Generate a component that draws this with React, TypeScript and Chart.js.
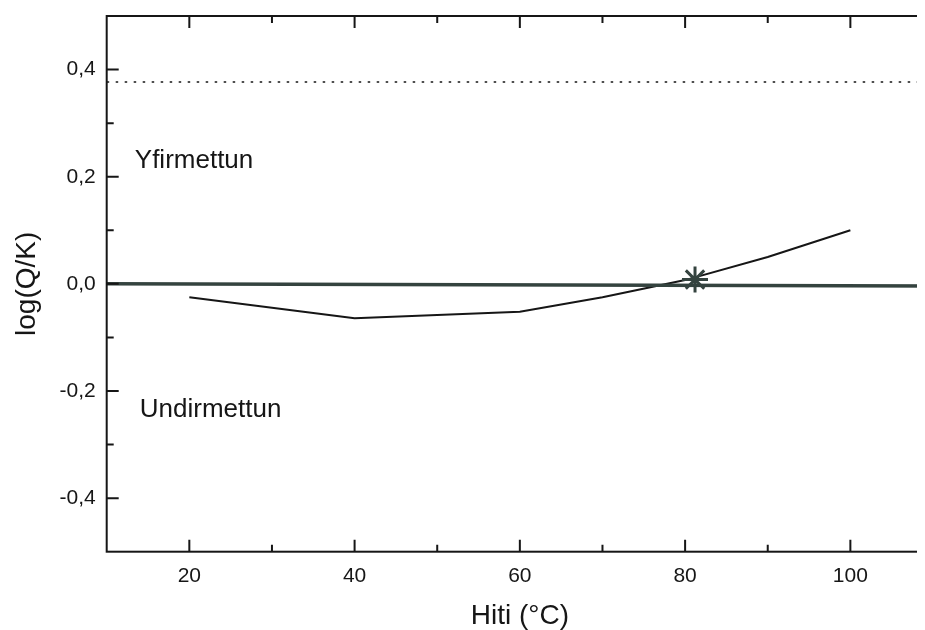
import React, { useEffect, useRef } from "react";
import { Chart, registerables } from "chart.js";

Chart.register(...registerables);

// ---- data ----
const temperatures = [20, 40, 60, 70, 80, 90, 100];
const logQK = [-0.025, -0.064, -0.052, -0.025, 0.007, 0.05, 0.1];

const equilibriumX = [10, 110];
const equilibriumY = [0.0, -0.004];

const dottedX = [10, 110];
const dottedY = [0.377, 0.377];

const starX = [81.2];
const starY = [0.008];

const xMajorTicks = [20, 40, 60, 80, 100];
const xMinorTicks = [30, 50, 70, 90];
const yMajorTicks = [-0.4, -0.2, 0, 0.2, 0.4];
const yMinorTicks = [-0.3, -0.1, 0.1, 0.3];

const regionLabels = ["Yfirmettun", "Undirmettun"];
const regionLabelX = [13.4, 14.0];
const regionLabelY = [0.217, -0.248];

const xTitle = "Hiti (°C)";
const yTitle = "log(Q/K)";

const FONT = '"Liberation Sans", Arial, Helvetica, sans-serif';
const INK = "#161616";
const SLATE = "#34433f";

const zeroPadding = (s: any) => {
  s.paddingTop = 0;
  s.paddingBottom = 0;
  s.paddingLeft = 0;
  s.paddingRight = 0;
};

const framePlugin = {
  id: "frameTicks",
  afterDatasetsDraw(chart: any) {
    const { ctx, chartArea: a, scales } = chart;
    const x = scales.x;
    const y = scales.y;
    const major = 12;
    const minor = 7;
    ctx.save();
    ctx.strokeStyle = INK;
    ctx.lineWidth = 2;
    ctx.strokeRect(a.left, a.top, a.right - a.left, a.bottom - a.top);
    ctx.beginPath();
    const xt = (v: number, len: number) => {
      const px = x.getPixelForValue(v);
      ctx.moveTo(px, a.bottom);
      ctx.lineTo(px, a.bottom - len);
      ctx.moveTo(px, a.top);
      ctx.lineTo(px, a.top + len);
    };
    const yt = (v: number, len: number) => {
      const py = y.getPixelForValue(v);
      ctx.moveTo(a.left, py);
      ctx.lineTo(a.left + len, py);
      ctx.moveTo(a.right, py);
      ctx.lineTo(a.right - len, py);
    };
    xMajorTicks.forEach((v) => xt(v, major));
    xMinorTicks.forEach((v) => xt(v, minor));
    yMajorTicks.forEach((v) => yt(v, major));
    yMinorTicks.forEach((v) => yt(v, minor));
    ctx.stroke();

    ctx.fillStyle = INK;
    ctx.font = `26px ${FONT}`;
    ctx.textAlign = "left";
    ctx.textBaseline = "alphabetic";
    regionLabels.forEach((t, i) => {
      ctx.fillText(t, x.getPixelForValue(regionLabelX[i]), y.getPixelForValue(regionLabelY[i]));
    });
    ctx.restore();
  },
};

export default function App() {
  const ref = useRef<HTMLCanvasElement | null>(null);

  useEffect(() => {
    document.documentElement.style.overflow = "hidden";
    const canvas = ref.current;
    if (!canvas) return;
    const chart = new Chart(canvas, {
      type: "line",
      data: {
        datasets: [
          {
            type: "scatter",
            data: starX.map((v, i) => ({ x: v, y: starY[i] })),
            pointStyle: "star",
            pointRadius: 13,
            pointBorderWidth: 3,
            borderColor: SLATE,
            backgroundColor: SLATE,
            showLine: false,
          },
          {
            data: equilibriumX.map((v, i) => ({ x: v, y: equilibriumY[i] })),
            borderColor: SLATE,
            borderWidth: 3.5,
            pointRadius: 0,
            tension: 0,
          },
          {
            data: temperatures.map((v, i) => ({ x: v, y: logQK[i] })),
            borderColor: INK,
            borderWidth: 2,
            pointRadius: 0,
            tension: 0,
          },
          {
            data: dottedX.map((v, i) => ({ x: v, y: dottedY[i] })),
            borderColor: INK,
            borderWidth: 1.5,
            borderDash: [2.5, 6.5],
            pointRadius: 0,
            tension: 0,
          },
        ],
      },
      options: {
        animation: false,
        responsive: false,
        events: [],
        layout: { autoPadding: false, padding: { top: 8, right: 10, left: 0, bottom: 0 } },
        plugins: {
          legend: { display: false },
          tooltip: { enabled: false },
        },
        scales: {
          x: {
            type: "linear",
            min: 10,
            max: 110,
            afterBuildTicks: (s: any) => {
              s.ticks = xMajorTicks.map((v) => ({ value: v }));
            },
            afterFit: (s: any) => {
              s.height = 78.3;
              zeroPadding(s);
            },
            grid: { display: false, drawTicks: false },
            border: { display: false },
            ticks: {
              autoSkip: false,
              maxRotation: 0,
              padding: 12,
              color: INK,
              font: { family: FONT, size: 21 },
              callback: (v: any) => String(v),
            },
            title: {
              display: true,
              text: xTitle,
              color: INK,
              font: { family: FONT, size: 28 },
              padding: { top: 0, bottom: -3 },
            },
          },
          y: {
            type: "linear",
            min: -0.5,
            max: 0.5,
            afterBuildTicks: (s: any) => {
              s.ticks = yMajorTicks.map((v) => ({ value: v }));
            },
            afterFit: (s: any) => {
              s.width = 98.7;
              zeroPadding(s);
            },
            grid: { display: false, drawTicks: false },
            border: { display: false },
            ticks: {
              autoSkip: false,
              padding: 11,
              color: INK,
              font: { family: FONT, size: 21 },
              callback: (v: any) => Number(v).toFixed(1).replace(".", ","),
            },
            title: {
              display: true,
              text: yTitle,
              color: INK,
              font: { family: FONT, size: 28 },
              padding: { top: 2, bottom: 0 },
            },
          },
        },
      },
      plugins: [framePlugin],
    } as any);
    return () => chart.destroy();
  }, []);

  return (
    <div style={{ width: 917, height: 622, overflow: "hidden" }}>
      <canvas ref={ref} width={935} height={622} style={{ width: 935, height: 622, display: "block" }} />
    </div>
  );
}
